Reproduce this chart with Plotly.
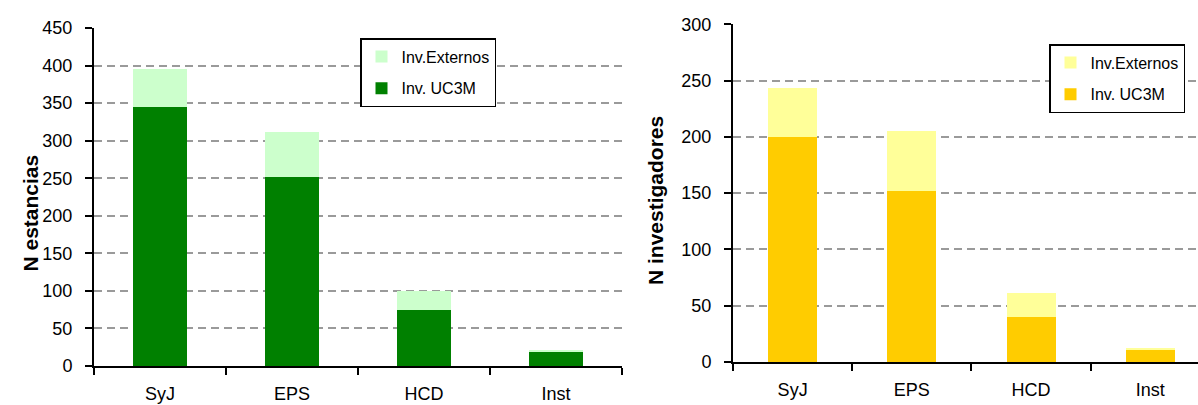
import plotly.graph_objects as go

# Categories (centres / schools)
categorias = ["SyJ", "EPS", "HCD", "Inst"]

# Number of research stays
estancias_uc3m = [345, 251, 75, 19]
estancias_externos = [50, 61, 25, 1]

# Number of researchers
investigadores_uc3m = [200, 152, 40, 11]
investigadores_externos = [43, 53, 21, 1]

FONT = "Liberation Sans, Arial, sans-serif"
VERDE_OSCURO = "#008000"
VERDE_CLARO = "#CCFFCC"
AMARILLO = "#FFCC00"
AMARILLO_CLARO = "#FFFF99"

fig = go.Figure()

# Left chart: stays
fig.add_trace(go.Bar(x=categorias, y=estancias_uc3m, name="Inv. UC3M",
                     marker=dict(color=VERDE_OSCURO, line=dict(width=0)),
                     xaxis="x", yaxis="y", legend="legend", legendgroup="a1",
                     legendrank=2))
fig.add_trace(go.Bar(x=categorias, y=estancias_externos, name="Inv.Externos",
                     marker=dict(color=VERDE_CLARO, line=dict(width=0)),
                     xaxis="x", yaxis="y", legend="legend", legendgroup="a2",
                     legendrank=1))

# Right chart: researchers
fig.add_trace(go.Bar(x=categorias, y=investigadores_uc3m, name="Inv. UC3M",
                     marker=dict(color=AMARILLO, line=dict(width=0)),
                     xaxis="x2", yaxis="y2", legend="legend2", legendgroup="b1",
                     legendrank=2))
fig.add_trace(go.Bar(x=categorias, y=investigadores_externos, name="Inv.Externos",
                     marker=dict(color=AMARILLO_CLARO, line=dict(width=0)),
                     xaxis="x2", yaxis="y2", legend="legend2", legendgroup="b2",
                     legendrank=1))

xcommon = dict(
    type="category", showgrid=False, showline=True, linecolor="black", linewidth=2,
    ticks="outside", tickson="boundaries", ticklen=7, tickwidth=1.5, tickcolor="black",
    tickfont=dict(family=FONT, size=18, color="black"), ticklabelstandoff=10,
    zeroline=False, fixedrange=True, automargin=False,
)
ycommon = dict(
    showgrid=True, gridcolor="#9a9a9a", gridwidth=1.5, griddash="8px,5px",
    showline=True, linecolor="black", linewidth=2,
    ticks="outside", ticklen=7, tickwidth=1.5, tickcolor="black",
    tickfont=dict(family=FONT, size=18, color="black"), ticklabelstandoff=9,
    zeroline=False, dtick=50, fixedrange=True, automargin=False,
)

legend_common = dict(
    bgcolor="white", bordercolor="black", borderwidth=1.5,
    font=dict(family=FONT, size=16, color="black"),
    xanchor="left", yanchor="top", tracegroupgap=8,
    itemclick=False, itemdoubleclick=False,
)

fig.update_layout(
    width=1198, height=405,
    margin=dict(l=0, r=0, t=0, b=0, autoexpand=False),
    paper_bgcolor="white", plot_bgcolor="white",
    barmode="stack", bargap=0.59,
    showlegend=True,
    xaxis=dict(xcommon, domain=[94 / 1198, 622 / 1198], anchor="y", range=[-0.5, 3.5]),
    yaxis=dict(ycommon, domain=[1 - 366 / 405, 1 - 28 / 405], anchor="x", range=[0, 450]),
    xaxis2=dict(xcommon, domain=[733 / 1198, 1.0], anchor="y2", range=[-0.5, 3.4]),
    yaxis2=dict(ycommon, domain=[1 - 362 / 405, 1 - 24.3 / 405], anchor="x2", range=[0, 300]),
    legend=dict(legend_common, x=360 / 1198, y=1 - 38 / 405),
    legend2=dict(legend_common, x=1049 / 1198, y=1 - 44 / 405),
    annotations=[
        dict(text="<b>N estancias</b>", x=16 / 1198, y=1 - 213 / 405,
             xref="paper", yref="paper", textangle=-90, showarrow=False,
             font=dict(family=FONT, size=21, color="black")),
        dict(text="<b>N investigadores</b>", x=656 / 1198, y=1 - 201 / 405,
             xref="paper", yref="paper", textangle=-90, showarrow=False,
             font=dict(family=FONT, size=21, color="black")),
    ],
)

fig.write_html("out.html")
